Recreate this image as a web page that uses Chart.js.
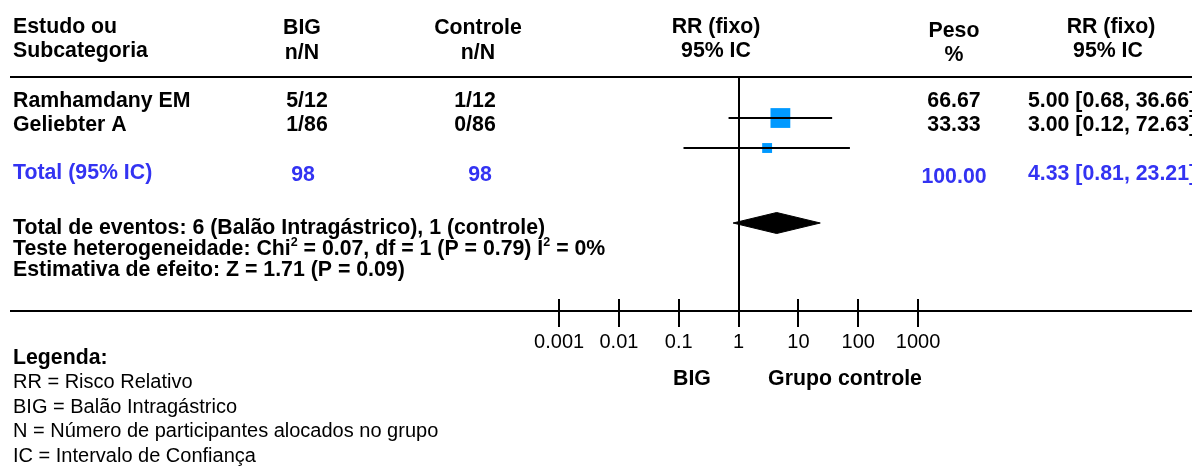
<!DOCTYPE html>
<html>
<head>
<meta charset="utf-8">
<script src="https://cdn.jsdelivr.net/npm/chart.js@4.4.1/dist/chart.umd.min.js"></script>
<style>
  html, body { margin: 0; padding: 0; background: #fff; }
  #wrap { width: 1192px; height: 468px; }
</style>
</head>
<body>
<div id="wrap"><canvas id="forest" width="1192" height="468"></canvas></div>
<script>
// study rows
const studies = ['Ramhamdany EM', 'Geliebter A'];
const bigEvents = ['5/12', '1/86'];
const ctrlEvents = ['1/12', '0/86'];
const weights = [66.67, 33.33];
const rr = [5.00, 3.00];
const rrLow = [0.68, 0.12];
const rrHigh = [36.66, 72.63];

// pooled estimate
const totalBig = 98;
const totalCtrl = 98;
const totalWeight = 100.00;
const totalRR = 4.33;
const totalLow = 0.81;
const totalHigh = 23.21;

const axisTicks = [0.001, 0.01, 0.1, 1, 10, 100, 1000];

const legendLines = [
  'RR = Risco Relativo',
  'BIG = Balão Intragástrico',
  'N = Número de participantes alocados no grupo',
  'IC = Intervalo de Confiança'
];

const FONT = "'Liberation Sans', Arial, Helvetica, sans-serif";
const BLUE = '#3333f2';
const B = 21.3;   // bold text size
const R = 20;     // regular text size
const bold = px => 'bold ' + px + 'px ' + FONT;
const regular = px => px + 'px ' + FONT;

const fmt = v => v.toFixed(2);
const ciText = (m, lo, hi) => fmt(m) + ' [' + fmt(lo) + ', ' + fmt(hi) + ']';

// rows sit one unit apart on the y scale, the pooled row a bit lower
const rowOf = i => i + 1;
const totalRow = studies.length + 2.5;

function put(ctx, str, x, y, font, color, align) {
  ctx.font = font;
  ctx.fillStyle = color || '#000';
  ctx.textAlign = align || 'left';
  ctx.textBaseline = 'middle';
  ctx.fillText(str, x, y);
}

// draws a line made of [text, isSuperscript] pieces
function putRich(ctx, parts, x, y) {
  ctx.textBaseline = 'middle';
  ctx.textAlign = 'left';
  ctx.fillStyle = '#000';
  parts.forEach(([s, sup]) => {
    ctx.font = sup ? bold(12.5) : bold(B);
    ctx.fillText(s, x, sup ? y - 6 : y);
    x += ctx.measureText(s).width;
  });
}

const tablePlugin = {
  id: 'forestTable',
  beforeDatasetsDraw(chart) {
    const { ctx, chartArea, scales } = chart;
    const xs = scales.x;
    const axisY = chartArea.bottom;
    ctx.save();
    ctx.strokeStyle = '#000';
    ctx.lineWidth = 2;
    ctx.beginPath();
    // header rule and axis line
    ctx.moveTo(chartArea.left, chartArea.top);
    ctx.lineTo(chartArea.right, chartArea.top);
    ctx.moveTo(chartArea.left, axisY);
    ctx.lineTo(chartArea.right, axisY);
    // line of no effect
    const x1 = Math.round(xs.getPixelForValue(1));
    ctx.moveTo(x1, chartArea.top);
    ctx.lineTo(x1, axisY);
    // tick marks crossing the axis
    xs.ticks.forEach(t => {
      const px = Math.round(xs.getPixelForValue(t.value));
      ctx.moveTo(px, axisY - 12);
      ctx.lineTo(px, axisY + 16);
    });
    ctx.stroke();
    ctx.restore();
  },
  afterDraw(chart) {
    const ctx = chart.ctx;
    ctx.save();
    // column headers
    put(ctx, 'Estudo ou', 13, 27, bold(B));
    put(ctx, 'Subcategoria', 13, 51, bold(B));
    put(ctx, 'BIG', 302, 28, bold(B), '#000', 'center');
    put(ctx, 'n/N', 302, 53, bold(B), '#000', 'center');
    put(ctx, 'Controle', 478, 28, bold(B), '#000', 'center');
    put(ctx, 'n/N', 478, 53, bold(B), '#000', 'center');
    put(ctx, 'RR (fixo)', 716, 27, bold(B), '#000', 'center');
    put(ctx, '95% IC', 716, 51, bold(B), '#000', 'center');
    put(ctx, 'Peso', 954, 31, bold(B), '#000', 'center');
    put(ctx, '%', 954, 55, bold(B), '#000', 'center');
    put(ctx, 'RR (fixo)', 1111, 27, bold(B), '#000', 'center');
    put(ctx, '95% IC', 1108, 51, bold(B), '#000', 'center');

    // study rows
    studies.forEach((name, i) => {
      const y = 101 + i * 24;
      put(ctx, name, 13, y, bold(B));
      put(ctx, bigEvents[i], 307, y, bold(B), '#000', 'center');
      put(ctx, ctrlEvents[i], 475, y, bold(B), '#000', 'center');
      put(ctx, fmt(weights[i]), 954, y, bold(B), '#000', 'center');
      put(ctx, ciText(rr[i], rrLow[i], rrHigh[i]), 1028, y, bold(B));
    });

    // pooled row
    put(ctx, 'Total (95% IC)', 13, 173, bold(B), BLUE);
    put(ctx, String(totalBig), 303, 175, bold(B), BLUE, 'center');
    put(ctx, String(totalCtrl), 480, 175, bold(B), BLUE, 'center');
    put(ctx, fmt(totalWeight), 954, 177, bold(B), BLUE, 'center');
    put(ctx, ciText(totalRR, totalLow, totalHigh), 1028, 174, bold(B), BLUE);

    // heterogeneity and effect summary
    put(ctx, 'Total de eventos: 6 (Balão Intragástrico), 1 (controle)', 13, 228, bold(B));
    putRich(ctx, [
      ['Teste heterogeneidade: Chi'], ['2', true],
      [' = 0.07, df = 1 (P = 0.79) I'], ['2', true], [' = 0%']
    ], 13, 249);
    put(ctx, 'Estimativa de efeito: Z = 1.71 (P = 0.09)', 13, 270, bold(B));

    // axis side labels
    put(ctx, 'BIG', 692, 379, bold(B), '#000', 'center');
    put(ctx, 'Grupo controle', 845, 379, bold(B), '#000', 'center');

    // legend block
    put(ctx, 'Legenda:', 13, 358, bold(B));
    legendLines.forEach((s, i) => put(ctx, s, 13, 382.5 + i * 24.5, regular(R)));
    ctx.restore();
  }
};

const ciSets = studies.map((s, i) => ({
  label: s,
  data: [{ x: rrLow[i], y: rowOf(i) }, { x: rrHigh[i], y: rowOf(i) }],
  borderColor: '#000',
  borderWidth: 2,
  pointRadius: 0,
  order: 0
}));

const squares = {
  label: 'RR',
  data: studies.map((s, i) => ({ x: rr[i], y: rowOf(i) })),
  showLine: false,
  pointStyle: 'rect',
  pointRadius: weights.map(w => w * 0.21),
  pointBackgroundColor: '#0099ff',
  pointBorderWidth: 0,
  order: 1
};

const diamond = {
  label: 'Total',
  data: [
    { x: totalLow, y: totalRow },
    { x: totalRR, y: totalRow - 0.35 },
    { x: totalHigh, y: totalRow },
    { x: totalRR, y: totalRow + 0.35 },
    { x: totalLow, y: totalRow }
  ],
  borderColor: '#000',
  borderWidth: 1,
  backgroundColor: '#000',
  fill: 'shape',
  pointRadius: 0,
  tension: 0,
  order: 0
};

new Chart(document.getElementById('forest'), {
  type: 'line',
  data: { datasets: [...ciSets, diamond, squares] },
  options: {
    responsive: false,
    animation: false,
    devicePixelRatio: 1,
    layout: { autoPadding: false, padding: { left: 10, right: 0, top: 77, bottom: 95 } },
    plugins: { legend: { display: false }, tooltip: { enabled: false } },
    scales: {
      x: {
        type: 'logarithmic',
        min: Math.pow(10, -12.18),
        max: Math.pow(10, 7.58),
        afterBuildTicks: scale => { scale.ticks = axisTicks.map(v => ({ value: v })); },
        grid: { display: false, drawTicks: false },
        border: { display: false },
        ticks: {
          autoSkip: false,
          maxRotation: 0,
          padding: 19,
          color: '#000',
          font: { family: FONT, size: R },
          callback: v => String(v)
        }
      },
      y: {
        type: 'linear',
        display: false,
        reverse: true,
        min: -0.367,
        max: 7.433
      }
    }
  },
  plugins: [tablePlugin]
});
</script>
</body>
</html>
